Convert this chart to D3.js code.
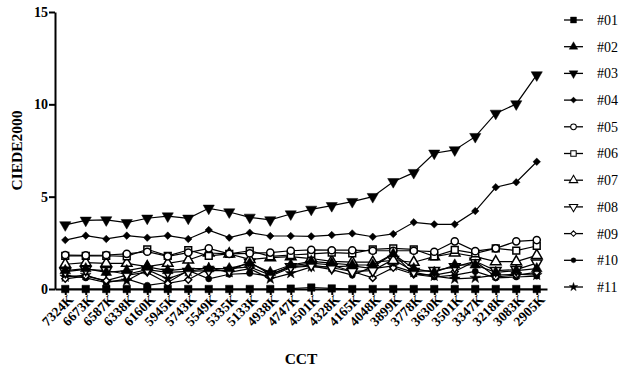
<!DOCTYPE html>
<meta charset='utf-8'>
<style>
    body { margin: 0; background: #fff; }
    text { font-family: 'Liberation Serif', 'Times New Roman', serif; }
    .axis path, .axis line { stroke: #000; stroke-width: 2px; }
    .axis text { font-weight: bold; fill: #000; }
</style>
<body>
<div id='container'></div>
<script src='https://d3js.org/d3.v7.min.js'></script>
<script>
    const categories = ['7324K','6673K','6587K','6338K','6160K','5945K','5743K','5549K','5335K','5133K','4938K','4747K',
        '4501K','4328K','4165K','4048K','3899K','3778K','3630K','3501K','3347K','3218K','3083K','2905K'];

    const s01 = [0,0,0,0,0,0,0,0,0,0,0,0.02,0.08,0.03,0,0,0,0,0,0,0,0,0,0];
    const s02 = [1.0,1.1,0.9,1.0,1.2,1.0,1.1,1.1,1.1,1.4,0.9,1.3,1.5,1.4,1.3,1.3,1.9,1.1,0.9,1.3,1.3,0.9,1.0,1.1];
    const s03 = [3.47,3.72,3.74,3.59,3.83,3.95,3.83,4.37,4.17,3.88,3.74,4.06,4.31,4.51,4.73,5.0,5.81,6.30,7.35,7.53,8.25,9.51,10.02,11.59];
    const s04 = [2.65,2.89,2.71,2.89,2.78,2.89,2.71,3.19,2.78,3.05,2.87,2.87,2.85,2.92,3.01,2.83,2.98,3.61,3.50,3.50,4.22,5.51,5.78,6.89];
    const s05 = [1.84,1.82,1.84,1.9,2.02,1.77,1.97,2.2,1.9,1.93,1.97,2.07,2.12,2.1,2.1,2.07,2.07,2.07,2.02,2.58,2.05,2.2,2.58,2.65];
    const s06 = [1.79,1.79,1.8,1.77,2.15,1.79,2.11,1.79,1.9,2.07,1.77,1.84,1.9,1.97,1.93,2.15,2.2,2.15,1.77,2.12,1.93,2.2,2.08,2.33];
    const s07 = [1.34,1.43,1.39,1.39,1.21,1.39,1.57,1.95,1.9,1.6,1.7,1.75,1.65,1.5,1.45,1.45,1.55,1.45,1.75,1.95,1.75,1.48,1.48,1.82];
    const s08 = [0.94,1.06,1.0,0.8,1.05,0.9,0.95,1.0,1.0,1.45,0.8,1.2,1.3,1.15,0.95,1.0,1.6,0.95,1.0,1.2,1.5,1.0,1.05,1.4];
    const s09 = [0.55,0.7,0.45,0.75,0.9,0.3,0.5,1.1,1.1,1.2,0.75,1.25,1.4,1.3,0.95,0.6,1.15,0.8,0.75,0.95,1.5,0.65,0.75,0.9];
    const s10 = [0.75,0.6,0.35,0.55,0.2,0.35,1.0,0.55,0.8,0.85,0.7,1.15,1.25,1.05,0.75,1.2,1.9,0.8,0.65,0.75,0.95,0.6,0.65,0.7];
    const s11 = [0.65,0.75,0.4,0.45,1.05,0.55,0.95,1.15,0.9,1.1,0.55,0.85,1.2,1.2,1.25,1.1,1.25,0.9,0.7,0.55,0.6,0.75,0.8,0.75];

    const yTicks = [0, 5, 10, 15];

    // symbol, filled, rotation
    const series = [
        { name: '#01', values: s01, sym: d3.symbolSquare, fill: true, rot: 0, size: 56 },
        { name: '#02', values: s02, sym: d3.symbolTriangle, fill: true, rot: 0, size: 50 },
        { name: '#03', values: s03, sym: d3.symbolTriangle, fill: true, rot: 180, size: 54 },
        { name: '#04', values: s04, sym: d3.symbolDiamond2, fill: true, rot: 0, size: 36 },
        { name: '#05', values: s05, sym: d3.symbolCircle, fill: false, rot: 0, size: 40 },
        { name: '#06', values: s06, sym: d3.symbolSquare, fill: false, rot: 0, size: 46 },
        { name: '#07', values: s07, sym: d3.symbolTriangle, fill: false, rot: 0, size: 48 },
        { name: '#08', values: s08, sym: d3.symbolTriangle, fill: false, rot: 180, size: 48 },
        { name: '#09', values: s09, sym: d3.symbolDiamond2, fill: false, rot: 0, size: 30 },
        { name: '#10', values: s10, sym: d3.symbolCircle, fill: true, rot: 0, size: 30 },
        { name: '#11', values: s11, sym: d3.symbolStar, fill: true, rot: 0, size: 36 },
    ];

    const width = 619, height = 368;
    const plot = { left: 55, right: 547, top: 12, bottom: 289 };

    const svg = d3.select('#container').append('svg')
        .attr('width', width)
        .attr('height', height);

    const xScale = d3.scalePoint()
        .domain(categories)
        .range([plot.left, plot.right])
        .padding(0.5);

    const yScale = d3.scaleLinear()
        .domain([0, 15])
        .range([plot.bottom, plot.top]);

    // axes
    const xAxisEl = svg.append('g')
        .attr('class', 'x axis')
        .attr('transform', `translate(0, ${plot.bottom})`)
        .call(d3.axisBottom(xScale).tickSize(6).tickSizeOuter(0));
    xAxisEl.selectAll('.tick text')
        .style('font-size', '13.5px')
        .attr('text-anchor', 'end')
        .attr('transform', 'translate(5, 8) rotate(-45)')
        .attr('x', 0).attr('y', 0).attr('dy', '0.35em');

    const yAxisEl = svg.append('g')
        .attr('class', 'y axis')
        .attr('transform', `translate(${plot.left}, 0)`)
        .call(d3.axisLeft(yScale).tickValues(yTicks).tickSize(6).tickSizeOuter(0));
    yAxisEl.selectAll('.tick text')
        .style('font-size', '14px')
        .attr('x', -7);

    // axis titles
    svg.append('text')
        .attr('x', (plot.left + plot.right) / 2)
        .attr('y', 364)
        .attr('text-anchor', 'middle')
        .style('font-size', '15.5px')
        .style('font-weight', 'bold')
        .text('CCT');

    svg.append('text')
        .attr('transform', `translate(22, ${(plot.top + plot.bottom) / 2}) rotate(-90)`)
        .attr('text-anchor', 'middle')
        .style('font-size', '15.5px')
        .style('font-weight', 'bold')
        .text('CIEDE2000');

    const line = d3.line()
        .x((d, i) => xScale(categories[i]))
        .y(d => yScale(d));

    const symbolPath = s => d3.symbol().type(s.sym).size(s.size)();

    // draw lines in reverse so #01 stays on top
    const groups = svg.selectAll('.series')
        .data(series.slice().reverse())
        .enter().append('g')
        .attr('class', 'series');

    groups.append('path')
        .attr('d', d => line(d.values))
        .attr('fill', 'none')
        .attr('stroke', '#000')
        .attr('stroke-width', 1.2);

    groups.each(function(s) {
        d3.select(this).selectAll('.pt')
            .data(s.values)
            .enter().append('path')
            .attr('class', 'pt')
            .attr('d', symbolPath(s))
            .attr('transform', (d, i) => `translate(${xScale(categories[i])}, ${yScale(d)}) rotate(${s.rot})`)
            .attr('fill', s.fill ? '#000' : '#fff')
            .attr('stroke', '#000')
            .attr('stroke-width', s.fill ? 0.5 : 1.5);
    });

    // legend
    const legend = svg.selectAll('.legend')
        .data(series)
        .enter().append('g')
        .attr('class', 'legend')
        .attr('transform', (d, i) => `translate(564, ${20 + i * 26.7})`);

    legend.append('line')
        .attr('x1', 0).attr('x2', 19)
        .attr('stroke', '#000').attr('stroke-width', 1.3);

    legend.append('path')
        .attr('d', d => symbolPath(d))
        .attr('transform', d => `translate(9.5, 0) rotate(${d.rot}) scale(0.8)`)
        .attr('fill', d => d.fill ? '#000' : '#fff')
        .attr('stroke', '#000')
        .attr('stroke-width', d => d.fill ? 0.5 : 1.3);

    legend.append('text')
        .attr('x', 33)
        .attr('dy', '0.35em')
        .style('font-size', '14px')
        .text(d => d.name);
</script>
</body>
